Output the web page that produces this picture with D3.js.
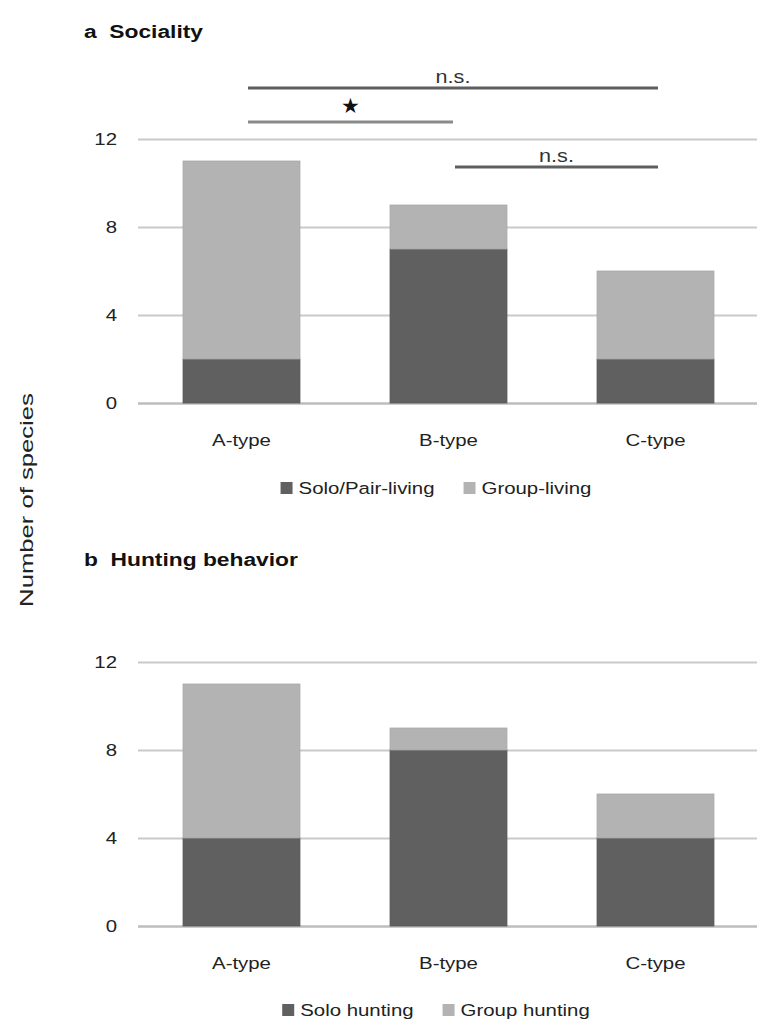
<!DOCTYPE html>
<html>
<head>
<meta charset="utf-8">
<script src="https://cdn.jsdelivr.net/npm/d3@7"></script>
<style>
  html, body { margin: 0; padding: 0; background: #fff; }
  svg { display: block; font-family: "Liberation Sans", Arial, sans-serif; }
</style>
</head>
<body>
<svg id="chart" width="757" height="1021"></svg>
<script>
// ---- data ----
const categories = ["A-type", "B-type", "C-type"];
const yTicks = [0, 4, 8, 12];

const socialitySeries = ["Solo/Pair-living", "Group-living"];
const socialitySolo = [2, 7, 2];
const socialityGroup = [9, 2, 4];

const huntingSeries = ["Solo hunting", "Group hunting"];
const huntingSolo = [4, 8, 4];
const huntingGroup = [7, 1, 2];

// significance comparisons: [from index, to index, label]
const compFrom = [0, 0, 1];
const compTo = [2, 1, 2];
const compLabel = ["n.s.", "★", "n.s."];

// ---- styling ----
const darkCol = "#606060";
const lightCol = "#b3b3b3";
const gridCol = "#c9c9c9";
const SX = 1.2; // horizontal text stretch

const svg = d3.select("#chart");

function stretchedText(parent, x, y, str, opts) {
  const g = parent.append("g")
    .attr("transform", `translate(${x},${y}) ${opts.rotate ? "rotate(-90)" : ""} scale(${opts.sx || SX},1)`);
  const t = g.append("text")
    .attr("x", 0).attr("y", 0)
    .attr("text-anchor", opts.anchor || "start")
    .attr("font-size", opts.size || 17)
    .attr("font-weight", opts.weight || "normal")
    .attr("fill", opts.fill || "#222")
    .style("white-space", "pre")
    .text(str);
  if (opts.dy) t.attr("dy", opts.dy);
  return t;
}

const x = d3.scaleBand().domain(categories).range([138, 759]).paddingInner(0.435).paddingOuter(0.2175);

function panel(cfg) {
  const y = d3.scaleLinear().domain([0, 12]).range([cfg.y0, cfg.y0 - 264]);
  const g = svg.append("g");

  // gridlines via axis
  const grid = g.append("g")
    .attr("transform", `translate(138,0)`)
    .call(d3.axisLeft(y).tickValues(yTicks).tickSize(-(757 - 138)).tickFormat(""));
  grid.select(".domain").remove();
  grid.selectAll(".tick line")
    .attr("stroke", (d) => d === 0 ? "#bdbdbd" : gridCol)
    .attr("stroke-width", (d) => d === 0 ? 2.5 : 2);

  // y tick labels
  yTicks.forEach(v => {
    stretchedText(g, 117, y(v), String(v), { anchor: "end", size: 17, dy: "0.36em", fill: "#222" });
  });

  // stacked bars
  const rows = categories.map((c, i) => ({ cat: c, solo: cfg.solo[i], group: cfg.group[i] }));
  const stack = d3.stack().keys(["solo", "group"])(rows);
  const colors = [darkCol, lightCol];
  stack.forEach((layer, li) => {
    g.append("g").selectAll("rect").data(layer).join("rect")
      .attr("x", d => x(d.data.cat))
      .attr("width", x.bandwidth())
      .attr("y", d => y(d[1]))
      .attr("height", d => y(d[0]) - y(d[1]))
      .attr("fill", colors[li])
      .attr("stroke", li === 0 ? "#585858" : "#a9a9a9")
      .attr("stroke-width", 0.8);
  });

  // x labels
  categories.forEach(c => {
    stretchedText(g, x(c) + x.bandwidth() / 2, cfg.y0 + 43, c, { anchor: "middle", size: 17, fill: "#222" });
  });

  // title
  stretchedText(g, 84, cfg.titleY, cfg.title, { size: 19, weight: "bold", fill: "#111" });

  // legend
  const lg = g.append("g");
  let cx = 0;
  cfg.series.forEach((s, i) => {
    const ig = lg.append("g").attr("transform", `translate(${cx},0)`);
    ig.append("rect").attr("x", 0).attr("y", -6).attr("width", 12).attr("height", 12).attr("fill", colors[i]);
    const t = stretchedText(ig, 18, 0, s, { size: 17, dy: "0.36em", fill: "#222" });
    const w = t.node().getComputedTextLength() * SX;
    cx += 18 + w + 29;
  });
  const totalW = cx - 29;
  lg.attr("transform", `translate(${436 - totalW / 2},${cfg.legendY})`);

  return y;
}

panel({ y0: 403, solo: socialitySolo, group: socialityGroup, series: socialitySeries,
  title: "a\u00a0\u00a0Sociality", titleY: 38, legendY: 488 });
panel({ y0: 926, solo: huntingSolo, group: huntingGroup, series: huntingSeries,
  title: "b\u00a0\u00a0Hunting behavior", titleY: 566, legendY: 1010 });

// significance bars (panel a)
const sigY = [88, 122, 167];
const sigCol = ["#5e5e5e", "#8a8a8a", "#5e5e5e"];
compFrom.forEach((f, i) => {
  const x1 = x(categories[f]) + x.bandwidth() / 2 + 6.5;
  const x2 = x(categories[compTo[i]]) + x.bandwidth() / 2 + (i === 1 ? 4.5 : 2.5);
  svg.append("line").attr("x1", x1).attr("x2", x2).attr("y1", sigY[i]).attr("y2", sigY[i])
    .attr("stroke", sigCol[i]).attr("stroke-width", 3);
  const mid = (x1 + x2) / 2;
  if (compLabel[i] === "★") {
    svg.append("text").attr("x", mid).attr("y", sigY[i] - 9).attr("text-anchor", "middle")
      .attr("font-size", 21).attr("fill", "#111").attr("font-family", "DejaVu Sans").text(compLabel[i]);
  } else {
    stretchedText(svg, mid, sigY[i] - 5, compLabel[i], { anchor: "middle", size: 18, fill: "#333" });
  }
});

// y axis title
stretchedText(svg, 33, 500, "Number of species", { anchor: "middle", size: 19, rotate: true, sx: 1.35, fill: "#222" });
</script>
</body>
</html>
